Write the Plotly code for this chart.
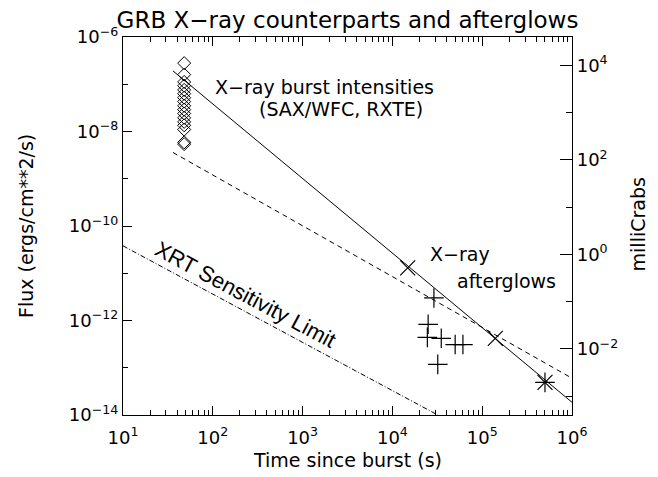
import numpy as np
import plotly.graph_objects as go

# ---------------- data ----------------
# burst intensities (SAX/WFC, RXTE): time (s), flux (erg/cm^2/s)
burst_t = [48] * 17
burst_f = [2.8e-7, 1.6e-7, 1.12e-7, 9.3e-8, 7.6e-8, 6.3e-8, 5.2e-8, 4.3e-8,
           3.5e-8, 2.9e-8, 2.4e-8, 1.95e-8, 1.6e-8, 1.35e-8, 1.1e-8, 5.9e-9, 5.4e-9]

# X-ray afterglows (x symbols)
xag_t = [14800, 140000, 500000]
xag_f = [1.3e-11, 4.2e-13, 4.9e-14]

# X-ray afterglows (+ symbols)
pag_t = [29000, 25000, 24500, 35000, 50000, 61000, 32000, 500000]
pag_f = [3.0e-12, 8.3e-13, 4.4e-13, 4.2e-13, 3.1e-13, 3.1e-13, 1.18e-13, 4.9e-14]

# power-law decay lines
solid_t = [36, 1.0e6]
solid_f = [1.92e-7, 1.86e-14]
dashed_t = [36, 1.0e6]
dashed_f = [3.6e-9, 6.0e-14]
xrt_t = [10, 32000]
xrt_f = [3.8e-11, 1.0e-14]

# axes
x_range = [1, 6]            # log10 seconds
y_range = [-14, -6]         # log10 flux
MCRAB_FLUX = 2.5e-11        # erg/cm^2/s per milliCrab
x_major = [10, 100, 1e3, 1e4, 1e5, 1e6]
x_major_text = ["10<sup>1</sup>", "10<sup>2</sup>", "10<sup>3</sup>",
                "10<sup>4</sup>", "10<sup>5</sup>", "10<sup>6</sup>"]
y_major = [1e-14, 1e-12, 1e-10, 1e-8, 1e-6]
y_major_text = ["10<sup>−14</sup>", "10<sup>−12</sup>", "10<sup>−10</sup>",
                "10<sup>−8</sup>", "10<sup>−6</sup>"]
y_minor = [1e-13, 1e-11, 1e-9, 1e-7]
y2_major = [1e-2, 1, 1e2, 1e4]
y2_major_text = ["10<sup>−2</sup>", "10<sup>0</sup>", "10<sup>2</sup>", "10<sup>4</sup>"]
y2_minor = [1e-3, 1e-1, 10, 1e3]

x_minor = [m * 10 ** d for d in range(1, 6) for m in range(2, 10)]

FONT = "DejaVu Sans"

# the page body adds an 8px offset; the figure is sized to fit the window
W, H = 650, 469

fig = go.Figure()

line = dict(color="black", width=1)
fig.add_trace(go.Scatter(x=solid_t, y=solid_f, mode="lines", line=line, showlegend=False))
fig.add_trace(go.Scatter(x=dashed_t, y=dashed_f, mode="lines",
                         line=dict(color="black", width=1, dash="5px,4px"), showlegend=False))
fig.add_trace(go.Scatter(x=xrt_t, y=xrt_f, mode="lines",
                         line=dict(color="black", width=1, dash="5px,2px,1px,2px"), showlegend=False))
fig.add_trace(go.Scatter(x=burst_t, y=burst_f, mode="markers",
                         marker=dict(symbol="diamond-open", size=10, color="black",
                                     line=dict(width=1, color="black")), showlegend=False))
fig.add_trace(go.Scatter(x=xag_t, y=xag_f, mode="markers",
                         marker=dict(symbol="x-thin-open", size=15, color="black",
                                     line=dict(width=1.2, color="black")), showlegend=False))
fig.add_trace(go.Scatter(x=pag_t, y=pag_f, mode="markers",
                         marker=dict(symbol="cross-thin-open", size=14, color="black",
                                     line=dict(width=1.2, color="black")), showlegend=False))
# invisible trace to activate the right (milliCrab) axis
fig.add_trace(go.Scatter(x=[1e6], y=[1.0], yaxis="y2", mode="markers",
                         marker=dict(opacity=0), showlegend=False, hoverinfo="skip"))

annot_font = dict(family=FONT, size=19, color="black")
fig.add_annotation(x=2.0, y=-7.05, text="X−ray burst intensities", showarrow=False,
                   xanchor="left", yanchor="middle", font=annot_font)
fig.add_annotation(x=2.49, y=-7.52, text="(SAX/WFC, RXTE)", showarrow=False,
                   xanchor="left", yanchor="middle", font=annot_font)
fig.add_annotation(x=4.40, y=-10.59, text="X−ray", showarrow=False,
                   xanchor="left", yanchor="middle", font=annot_font)
fig.add_annotation(x=4.70, y=-11.16, text="afterglows", showarrow=False,
                   xanchor="left", yanchor="middle", font=annot_font)
fig.add_annotation(x=2.36, y=-11.45, text="XRT Sensitivity Limit", showarrow=False,
                   textangle=28, xanchor="center", yanchor="middle",
                   font=dict(family="Liberation Sans", size=22, color="black"))

# axis titles placed as paper-referenced annotations
fig.add_annotation(xref="paper", yref="paper", x=0.5, y=-0.119, text="Time since burst (s)",
                   showarrow=False, xanchor="center", yanchor="middle", font=annot_font)
fig.add_annotation(xref="paper", yref="paper", x=-0.216, y=0.5, text="Flux (ergs/cm**2/s)",
                   showarrow=False, textangle=-90, xanchor="center", yanchor="middle",
                   font=annot_font)
fig.add_annotation(xref="paper", yref="paper", x=1.146, y=0.503, text="milliCrabs",
                   showarrow=False, textangle=-90, xanchor="center", yanchor="middle",
                   font=annot_font)

fig.update_layout(
    width=W, height=H,
    margin=dict(l=115, r=86, t=29, b=62),
    paper_bgcolor="white", plot_bgcolor="white",
    font=dict(family=FONT, size=18, color="black"),
    title=dict(text="GRB X−ray counterparts and afterglows", x=0.5, xref="paper",
               y=1 - 12 / H, yref="container", xanchor="center", yanchor="middle",
               font=dict(family=FONT, size=23, color="black"), automargin=False),
    xaxis=dict(type="log", range=x_range, showline=True, linecolor="black", linewidth=1.2,
               mirror="ticks", ticks="inside", ticklen=9, tickwidth=1, tickcolor="black",
               tickvals=x_major, ticktext=x_major_text, showgrid=False, zeroline=False,
               automargin=False, ticklabelstandoff=6,
               minor=dict(tickvals=x_minor, ticks="inside", ticklen=5, tickcolor="black",
                          showgrid=False)),
    yaxis=dict(type="log", range=y_range, showline=True, linecolor="black", linewidth=1.2,
               ticks="inside", ticklen=9, tickwidth=1, tickcolor="black",
               tickvals=y_major, ticktext=y_major_text, showgrid=False, zeroline=False,
               automargin=False,
               minor=dict(tickvals=y_minor, ticks="inside", ticklen=5, tickcolor="black",
                          showgrid=False)),
    yaxis2=dict(type="log", overlaying="y", side="right",
                range=[y_range[0] - np.log10(MCRAB_FLUX), y_range[1] - np.log10(MCRAB_FLUX)],
                showline=True, linecolor="black", linewidth=1.2,
                ticks="inside", ticklen=12, tickwidth=1, tickcolor="black",
                tickvals=y2_major, ticktext=y2_major_text, showgrid=False, zeroline=False,
                automargin=False,
                minor=dict(tickvals=y2_minor, ticks="inside", ticklen=6, tickcolor="black",
                           showgrid=False)),
)

fig.write_html("out.html")
